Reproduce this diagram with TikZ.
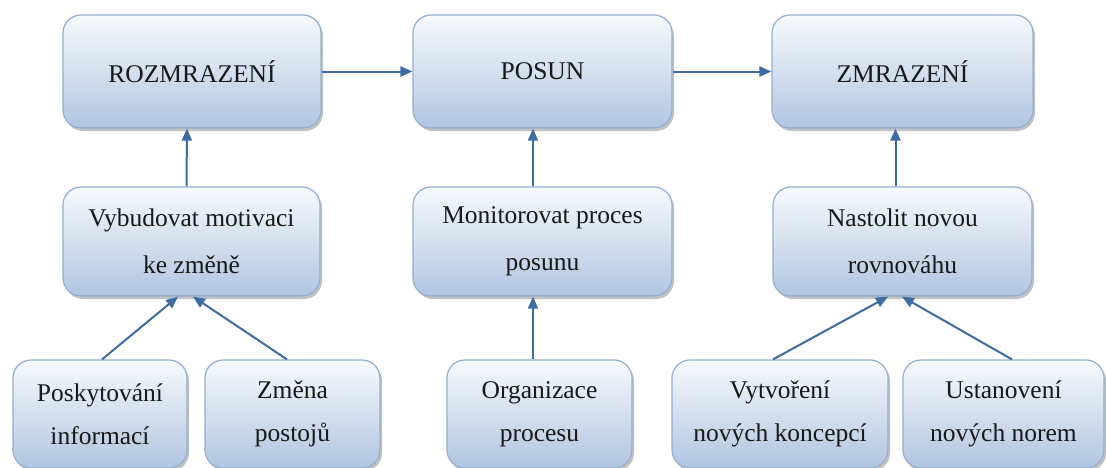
\documentclass[tikz,border=0pt]{standalone}
\usepackage{fontspec}
\setmainfont{Liberation Serif}
\usetikzlibrary{shadows,arrows.meta}
\definecolor{boxtop}{HTML}{F7FAFD}
\definecolor{boxbot}{HTML}{B0C5E0}
\definecolor{boxline}{HTML}{94AFCF}
\definecolor{arrcol}{HTML}{3D6CA4}
\tikzset{
  box/.style={draw=boxline, line width=1.2pt, rounded corners=18pt,
    top color=boxtop, bottom color=boxbot, align=center, text=black!90,
    inner sep=0pt,
    drop shadow={shadow xshift=2pt, shadow yshift=-3pt, opacity=0.4, fill=black!60}},
  toprow/.style={box, minimum height=113pt, font=\fontsize{25.5}{47}\selectfont},
  midrow/.style={box, minimum height=109pt, font=\fontsize{25.5}{47}\selectfont},
  botrow/.style={box, minimum height=108pt, font=\fontsize{25.5}{43}\selectfont},
  arr/.style={draw=arrcol, line width=2pt, -{Triangle[length=12pt,width=10pt]}}
}
\begin{document}
\begin{tikzpicture}[x=1pt,y=-1pt]
\useasboundingbox (0,0) rectangle (1106,467);
\clip (0,0) rectangle (1106,467);
\fill[white] (0,0) rectangle (1106,467);
% top row
\node[toprow, minimum width=258pt] (roz) at (192,71.5) {ROZMRAZENÍ};
\node[toprow, minimum width=259pt] (pos) at (542.5,71.5) {POSUN};
\node[toprow, minimum width=261pt] (zmr) at (902.5,71.5) {ZMRAZENÍ};
% middle row
\node[midrow, minimum width=257pt] (vyb) at (191.5,241.5) {Vybudovat motivaci\\ke změně};
\node[midrow, minimum width=259pt] (mon) at (542.5,241.5) {Monitorovat proces\\posunu};
\node[midrow, minimum width=259pt] (nas) at (902.5,241.5) {Nastolit novou\\rovnováhu};
% bottom row
\node[botrow, minimum width=174pt] (pin) at (100,414) {Poskytování\\informací};
\node[botrow, minimum width=175pt] (zpo) at (292.5,414) {Změna\\postojů};
\node[botrow, minimum width=185pt] (org) at (539.5,414) {Organizace\\procesu};
\node[botrow, minimum width=216pt] (vyt) at (780,414) {Vytvoření\\nových koncepcí};
\node[botrow, minimum width=201pt] (ust) at (1003.5,414) {Ustanovení\\nových norem};
% horizontal arrows
\draw[arr] (roz) -- (pos);
\draw[arr] (pos) -- (zmr);
% vertical arrows
\draw[arr] ([xshift=-5pt]vyb.north) -- ([xshift=-5pt]roz.south);
\draw[arr] ([xshift=-9.5pt]mon.north) -- ([xshift=-9.5pt]pos.south);
\draw[arr] ([xshift=-7pt]nas.north) -- ([xshift=-7pt]zmr.south);
\draw[arr] ([xshift=-6.5pt]org.north) -- ([xshift=-9.5pt]mon.south);
% diagonal arrows
\draw[arr] ([xshift=2pt]pin.north) -- ([xshift=-13.5pt]vyb.south);
\draw[arr] ([xshift=-5.5pt]zpo.north) -- ([xshift=1.5pt]vyb.south);
\draw[arr] ([xshift=-7pt]vyt.north) -- ([xshift=-14.5pt]nas.south);
\draw[arr] ([xshift=8.5pt]ust.north) -- ([xshift=-0.5pt]nas.south);
\end{tikzpicture}
\end{document}
